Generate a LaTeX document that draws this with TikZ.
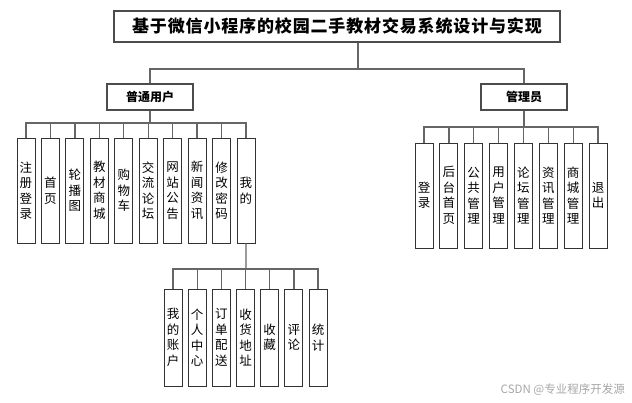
\documentclass[tikz,border=0pt]{standalone}
\usepackage{fontspec}
\setmainfont{Noto Sans CJK SC}
\newfontfamily\titlefont[LetterSpace=5]{Noto Sans CJK SC}

\begin{document}
\begin{tikzpicture}[
        x=1pt, y=-1pt,
        every node/.style={inner sep=0pt},
        titlebox/.style={draw=black!70, line width=1.2pt, minimum width=446pt, minimum height=31pt, font=\titlefont\bfseries\fontsize{17}{20}\selectfont},
        rolebox/.style={draw=black!70, line width=1.2pt, minimum width=86pt, minimum height=26pt, font=\bfseries\fontsize{12}{14}\selectfont},
        leaf/.style={draw=black!80, line width=0.9pt, minimum width=18pt, align=center, font=\fontsize{12.5}{15.5}\selectfont},
        link/.style={draw=black!60, line width=1.3pt}
    ]
    \useasboundingbox (0,0) rectangle (632,403);

    % Root and roles
    \node[titlebox] (root) at (337,26.5) {基于微信小程序的校园二手教材交易系统设计与实现};
    \node[rolebox] (user) at (150,97) {普通用户};
    \node[rolebox] (admin) at (524,97) {管理员};

    \coordinate (tbus) at (358,69);
    \draw[link] (root.south -| tbus) -- (tbus);
    \draw[link] (tbus) -| (user.north);
    \draw[link] (tbus) -| (admin.north);

    % User functions
    \foreach \t [count=\i] in {{注\\册\\登\\录},{首\\页},{轮\\播\\图},{教\\材\\商\\城},{购\\物\\车},{交\\流\\论\\坛},{网\\站\\公\\告},{新\\闻\\资\\讯},{修\\改\\密\\码},{我\\的}}
        \node[leaf, minimum height=105pt] (u\i) at ({26+24.44*(\i-1)},190.5) {\t};

    \coordinate (ubus) at (150,123);
    \draw[link] (user.south) -- (ubus);
    \foreach \i in {1,...,10}
        \draw[link] (ubus) -| (u\i.north);

    % Admin functions
    \foreach \t [count=\i] in {{登\\录},{后\\台\\首\\页},{公\\共\\管\\理},{用\\户\\管\\理},{论\\坛\\管\\理},{资\\讯\\管\\理},{商\\城\\管\\理},{退\\出}}
        \node[leaf, minimum height=105pt] (a\i) at ({424+24.86*(\i-1)},195.5) {\t};

    \coordinate (abus) at (524,127);
    \draw[link] (admin.south) -- (abus);
    \foreach \i in {1,...,8}
        \draw[link] (abus) -| (a\i.north);

    % My page
    \foreach \t [count=\i] in {{我\\的\\账\\户},{个\\人\\中\\心},{订\\单\\配\\送},{收\\货\\地\\址},{收\\藏},{评\\论},{统\\计}}
        \node[leaf, minimum height=97pt] (m\i) at ({173+24.17*(\i-1)},337.5) {\t};

    \coordinate (mbus) at (246,269);
    \draw[link] (u10.south) -- (mbus);
    \foreach \i in {1,...,7}
        \draw[link] (mbus) -| (m\i.north);

    % Watermark
    \node[anchor=east, text=black!35, font=\fontsize{11.5}{13}\selectfont] (csdn) at (625,390) {CSDN @专业程序开发源};

\end{tikzpicture}
\end{document}
